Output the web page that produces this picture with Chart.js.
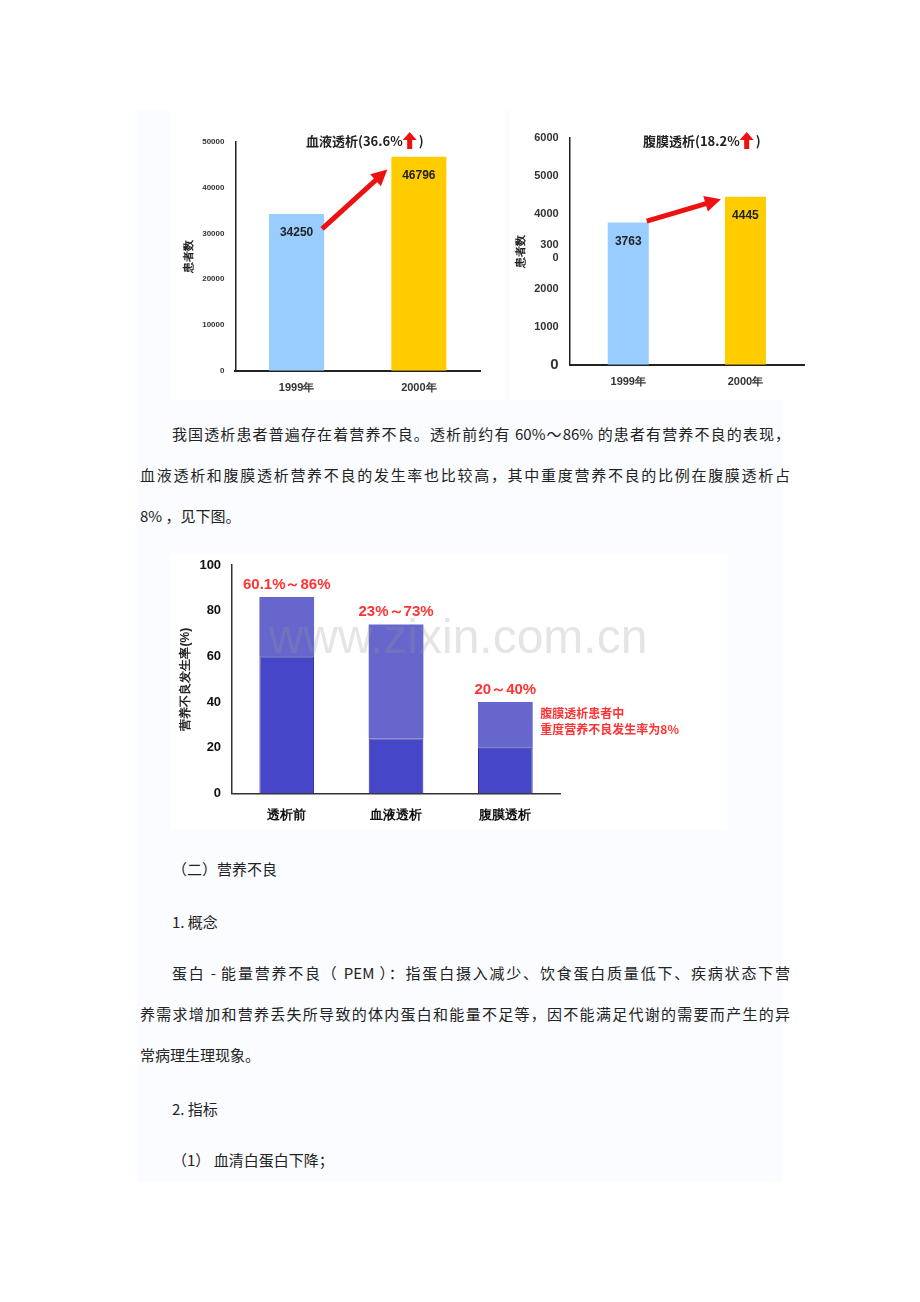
<!DOCTYPE html>
<html><head><meta charset="utf-8">
<script src="https://cdn.jsdelivr.net/npm/chart.js@4"></script>
<style>
body{margin:0;width:920px;height:1302px;background:#fff;position:relative;font-family:"Noto Sans CJK SC",sans-serif;}
#panel{position:absolute;left:137px;top:110px;width:646px;height:1072px;background:#fafcff;}
.c{position:absolute;background:#fff;}
p{position:absolute;margin:0;font-size:15px;color:#222;left:140px;width:650px;line-height:41px;}
.j{text-align:justify;text-align-last:justify;display:block;}
</style></head><body>
<div id="panel"></div>
<div class="c" style="left:170px;top:110px;width:335px;height:290px"><canvas id="c1"></canvas></div>
<div class="c" style="left:510px;top:110px;width:300px;height:290px"><canvas id="c2"></canvas></div>
<div class="c" style="left:170px;top:553px;width:558px;height:276px"><canvas id="c3"></canvas></div>
<p style="top:413px"><span class="j" style="padding-left:32px">我国透析患者普遍存在着营养不良。透析前约有 60%～86% 的患者有营养不良的表现，</span><span class="j">血液透析和腹膜透析营养不良的发生率也比较高，其中重度营养不良的比例在腹膜透析占</span>8% ，见下图。</p>
<p style="top:848px;left:172px">（二）营养不良</p>
<p style="top:901px;left:172px">1. 概念</p>
<p style="top:952px"><span class="j" style="padding-left:32px">蛋白 - 能量营养不良（ PEM ）：指蛋白摄入减少、饮食蛋白质量低下、疾病状态下营</span><span class="j">养需求增加和营养丢失所导致的体内蛋白和能量不足等，因不能满足代谢的需要而产生的异</span>常病理生理现象。</p>
<p style="top:1088px;left:172px">2. 指标</p>
<p style="top:1139px;left:172px">（1） 血清白蛋白下降；</p>
<script>
const years = ["1999年", "2000年"];
const hdValues = [34250, 46796];
const pdValues = [3763, 4445];
const barColors = ["#99ccff", "#ffcc00"];
const groups = ["透析前", "血液透析", "腹膜透析"];
const lowValues = [60, 24, 20];
const highValues = [86, 74, 40];
const rangeLabels = ["60.1%～86%", "23%～73%", "20～40%"];

const F = '"Liberation Sans", Arial, sans-serif';
Chart.defaults.animation = false;
Chart.defaults.responsive = false;

function drawArrow(ctx, x1, y1, x2, y2) {
  const a = Math.atan2(y2 - y1, x2 - x1);
  ctx.save();
  ctx.strokeStyle = ctx.fillStyle = "#ee1111";
  ctx.lineWidth = 5;
  ctx.beginPath(); ctx.moveTo(x1, y1);
  ctx.lineTo(x2 - 12 * Math.cos(a), y2 - 12 * Math.sin(a)); ctx.stroke();
  ctx.beginPath(); ctx.moveTo(x2, y2);
  ctx.lineTo(x2 - 16 * Math.cos(a) + 8 * Math.sin(a), y2 - 16 * Math.sin(a) - 8 * Math.cos(a));
  ctx.lineTo(x2 - 16 * Math.cos(a) - 8 * Math.sin(a), y2 - 16 * Math.sin(a) + 8 * Math.cos(a));
  ctx.fill(); ctx.restore();
}

function barChart(id, w, h, values, max, step, title, titleX, pad, bigZero, barPct, arrowY) {
  const cv = document.getElementById(id); cv.width = w; cv.height = h;
  new Chart(cv, {
    type: "bar",
    data: { labels: years, datasets: [{ data: values, backgroundColor: barColors, categoryPercentage: 1, barPercentage: barPct }] },
    options: {
      layout: { padding: pad },
      plugins: { legend: { display: false }, tooltip: { enabled: false } },
      scales: {
        x: { grid: { display: false }, border: { color: "#222", width: 2 },
          ticks: { color: "#333", font: { family: F, size: 11, weight: "bold" } } },
        y: { min: 0, max: max, grid: { display: false }, border: { color: "#222", width: 1.5 },
          ticks: { stepSize: step, color: "#333", font: c => ({ family: F, size: bigZero && c.tick && c.tick.value === 0 ? 15 : (bigZero ? 11 : 8), weight: "bold" }),
            callback: v => (bigZero && v === 3000) ? ["300", "0"] : v },
          title: { display: true, text: "患者数", color: "#222", font: { size: 11, weight: "bold" } } }
      }
    },
    plugins: [{ id: "lab", afterDatasetsDraw(ch) {
      const ctx = ch.ctx, m = ch.getDatasetMeta(0);
      ctx.save(); ctx.font = "bold 12px " + F; ctx.fillStyle = "#222"; ctx.textAlign = "center";
      m.data.forEach((b, i) => ctx.fillText(values[i], b.x, b.y + 22));
      ctx.restore();
      const ys = ch.scales.y;
      drawArrow(ctx, m.data[0].x + m.data[0].width / 2 - 2, ys.getPixelForValue(arrowY[0]),
        m.data[1].x - m.data[1].width / 2 - 4, ys.getPixelForValue(arrowY[1]));
      // title with red up arrow
      ctx.save(); ctx.font = "bold 13px 'Noto Sans CJK SC'"; ctx.fillStyle = "#222"; ctx.textBaseline = "middle";
      ctx.fillText(title, titleX, 31);
      const ax = titleX + ctx.measureText(title).width + 7, ay = 22;
      ctx.fillText(")", ax + 9, 31);
      ctx.fillStyle = "#ee1111";
      ctx.beginPath(); ctx.moveTo(ax, ay); ctx.lineTo(ax + 7, ay + 8); ctx.lineTo(ax - 7, ay + 8); ctx.fill();
      ctx.fillRect(ax - 2.5, ay + 7, 5, 10); ctx.restore();
    } }]
  });
}
barChart("c1", 335, 290, hdValues, 50000, 10000, "血液透析(36.6%", 136, { left: 8, right: 25, top: 32, bottom: 2 }, false, 0.45, [31000, 44000]);
barChart("c2", 300, 290, pdValues, 6000, 1000, "腹膜透析(18.2%", 133, { left: 0, right: 6, top: 28, bottom: 8 }, true, 0.35, [3800, 4380]);

const cv3 = document.getElementById("c3"); cv3.width = 558; cv3.height = 276;
new Chart(cv3, {
  type: "bar",
  data: { labels: groups, datasets: [
    { data: lowValues, backgroundColor: "#4646c8", borderColor: "#2a2a90", borderWidth: 1, categoryPercentage: 1, barPercentage: 0.5 },
    { data: highValues.map((v, i) => v - lowValues[i]), backgroundColor: "#6666cc", categoryPercentage: 1, barPercentage: 0.5 }
  ] },
  options: {
    layout: { padding: { left: 4, right: 168, top: 12, bottom: 0 } },
    plugins: { legend: { display: false }, tooltip: { enabled: false } },
    scales: {
      x: { stacked: true, grid: { display: false }, border: { color: "#333", width: 1.5 },
        ticks: { color: "#111", padding: 6, font: { size: 13, weight: "bold" } } },
      y: { stacked: true, min: 0, max: 100, grid: { display: false }, border: { color: "#333", width: 1.5 },
        ticks: { stepSize: 20, color: "#111", font: { family: F, size: 13, weight: "bold" } },
        title: { display: true, text: "营养不良发生率(%)", color: "#222", font: { size: 12, weight: "bold" } } }
    }
  },
  plugins: [{ id: "lab3", afterDatasetsDraw(ch) {
    const ctx = ch.ctx, m = ch.getDatasetMeta(1), ys = ch.scales.y;
    ctx.save(); ctx.fillStyle = "#ff3333"; ctx.textAlign = "center"; ctx.font = "bold 15px " + F;
    m.data.forEach((b, i) => ctx.fillText(rangeLabels[i], b.x, ys.getPixelForValue(highValues[i]) - 8));
    ctx.textAlign = "left"; ctx.font = "bold 12px 'Noto Sans CJK SC'";
    const x = m.data[2].x + 35;
    ctx.fillText("腹膜透析患者中", x, ys.getPixelForValue(33));
    ctx.fillText("重度营养不良发生率为8%", x, ys.getPixelForValue(26));
    ctx.font = "48px " + F; ctx.fillStyle = "rgba(150,150,150,0.25)"; ctx.textAlign = "center";
    ctx.fillText("www.zixin.com.cn", 288, 100);
    ctx.restore();
  } }]
});
</script>
</body></html>
